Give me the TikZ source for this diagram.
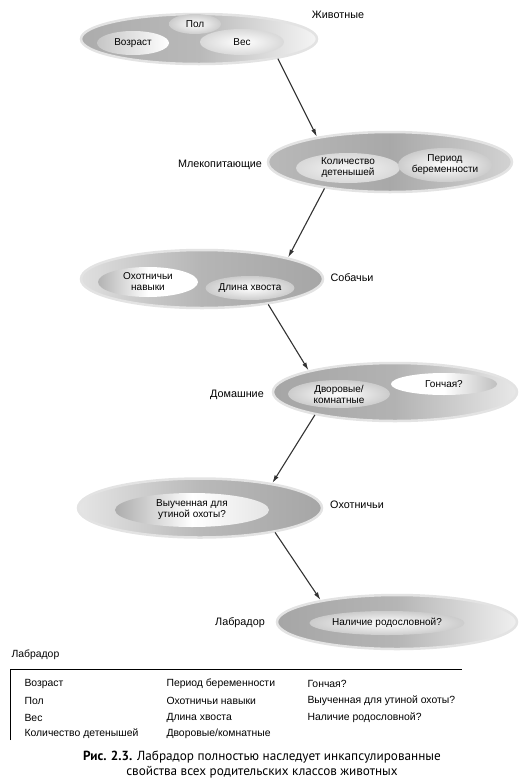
\documentclass[tikz,border=0pt]{standalone}
\usepackage{fontspec}
\setmainfont{Liberation Sans}
\newfontfamily\capfont{PT Sans}
\usepackage{tikz}
\usetikzlibrary{shapes.geometric,arrows.meta}

\begin{document}
\begin{tikzpicture}[x=1pt, y=-1pt,
  classStyle/.style={ellipse, draw=gray!22, line width=2.5pt, inner sep=0pt},
  propStyle/.style={ellipse, inner sep=0pt, align=center, font=\fontsize{10}{11}\selectfont, inner color=white, outer color=gray!40},
  nameStyle/.style={font=\fontsize{10.8}{12}\selectfont},
  arrowStyle/.style={-{Latex[length=8pt,width=4.5pt]}, line width=1.1pt, draw=black!80},
  tableStyle/.style={anchor=west, font=\fontsize{10.4}{12}\selectfont}
]
\useasboundingbox (0,0) rectangle (527,782);

\node [classStyle, minimum width=236, minimum height=50, left color=gray!65, right color=gray!8, middle color=gray!55] (animals) at (199,39) {};
\node [propStyle, minimum width=52, minimum height=20] (pol) at (195,24) {Пол};
\node [propStyle, minimum width=72, minimum height=24, left color=gray!45, right color=white] (age) at (133,43) {Возраст};
\node [propStyle, minimum width=84, minimum height=26, outer color=gray!30] (weight) at (242,42) {Вес};
\node [nameStyle] (animalsName) at (338,15) {Животные};

\node [classStyle, minimum width=244, minimum height=60, left color=gray!55, right color=gray!35, middle color=gray!68] (mammals) at (390,162) {};
\node [propStyle, minimum width=104, minimum height=30, outer color=gray!30, inner color=gray!8] (kids) at (348,168) {Количество\\детенышей};
\node [propStyle, minimum width=86, minimum height=34] (pregnancy) at (445,165) {Период\\беременности};
\node [nameStyle] (mammalsName) at (220,165) {Млекопитающие};

\node [classStyle, minimum width=242, minimum height=58, left color=gray!25, right color=gray!70, middle color=gray!58] (dogs) at (202,279) {};
\node [propStyle, minimum width=100, minimum height=30, left color=gray!60, right color=white, middle color=white] (skills) at (148,282) {Охотничьи\\навыки};
\node [propStyle, minimum width=86, minimum height=24] (tail) at (250,288) {Длина хвоста};
\node [nameStyle] (dogsName) at (352,278) {Собачьи};

\node [classStyle, minimum width=244, minimum height=58, left color=gray!70, right color=gray!18, middle color=gray!60] (domestic) at (395,392) {};
\node [propStyle, minimum width=102, minimum height=28] (yard) at (339,394) {Дворовые/\\комнатные};
\node [propStyle, minimum width=106, minimum height=22, left color=white, right color=gray!50, middle color=white] (hound) at (444,384) {Гончая?};
\node [nameStyle] (domesticName) at (237,395) {Домашние};

\node [classStyle, minimum width=244, minimum height=59, left color=gray!20, right color=gray!70, middle color=gray!55] (hunting) at (200,508) {};
\node [propStyle, minimum width=154, minimum height=34, left color=gray!65, right color=gray!20, middle color=white] (duck) at (192,510) {Выученная для\\утиной охоты?};
\node [nameStyle] (huntingName) at (357,505) {Охотничьи};

\node [classStyle, minimum width=240, minimum height=54, left color=gray!70, right color=gray!12, middle color=gray!58] (labrador) at (397,622) {};
\node [propStyle, minimum width=118, minimum height=24] (pedigree) at (387,623) {Наличие родословной?};
\node [nameStyle] (labradorName) at (240,623) {Лабрадор};

\draw [arrowStyle] (animals.-14)  -- (mammals.161);
\draw [arrowStyle] (mammals.-158) -- (dogs.14);
\draw [arrowStyle] (dogs.-21)     -- (domestic.166);
\draw [arrowStyle] (domestic.-164) -- (hunting.19);
\draw [arrowStyle] (hunting.-18)  -- (labrador.164);

% the summary table
\node [tableStyle] (tableTitle) at (8,655) {Лабрадор};
\coordinate (boxTop) at (10,669);
\draw [line width=1pt] (10,740) -- (boxTop) -- (462,669);

\node [tableStyle] (a1) at (21,684) {Возраст};
\node [tableStyle] (a2) at (21,701) {Пол};
\node [tableStyle] (a3) at (21,718) {Вес};
\node [tableStyle] (a4) at (21,734) {Количество детенышей};
\node [tableStyle] (b1) at (163,684) {Период беременности};
\node [tableStyle] (b2) at (163,701) {Охотничьи навыки};
\node [tableStyle] (b3) at (163,718) {Длина хвоста};
\node [tableStyle] (b4) at (163,734) {Дворовые/комнатные};
\node [tableStyle] (c1) at (304,684) {Гончая?};
\node [tableStyle] (c2) at (304,701) {Выученная для утиной охоты?};
\node [tableStyle] (c3) at (304,718) {Наличие родословной?};

\node [align=center, font=\capfont\fontsize{13.2}{15}\selectfont] (caption) at (262,765) {\textbf{Рис. 2.3.} Лабрадор полностью наследует инкапсулированные\\свойства всех родительских классов животных};
\end{tikzpicture}
\end{document}
